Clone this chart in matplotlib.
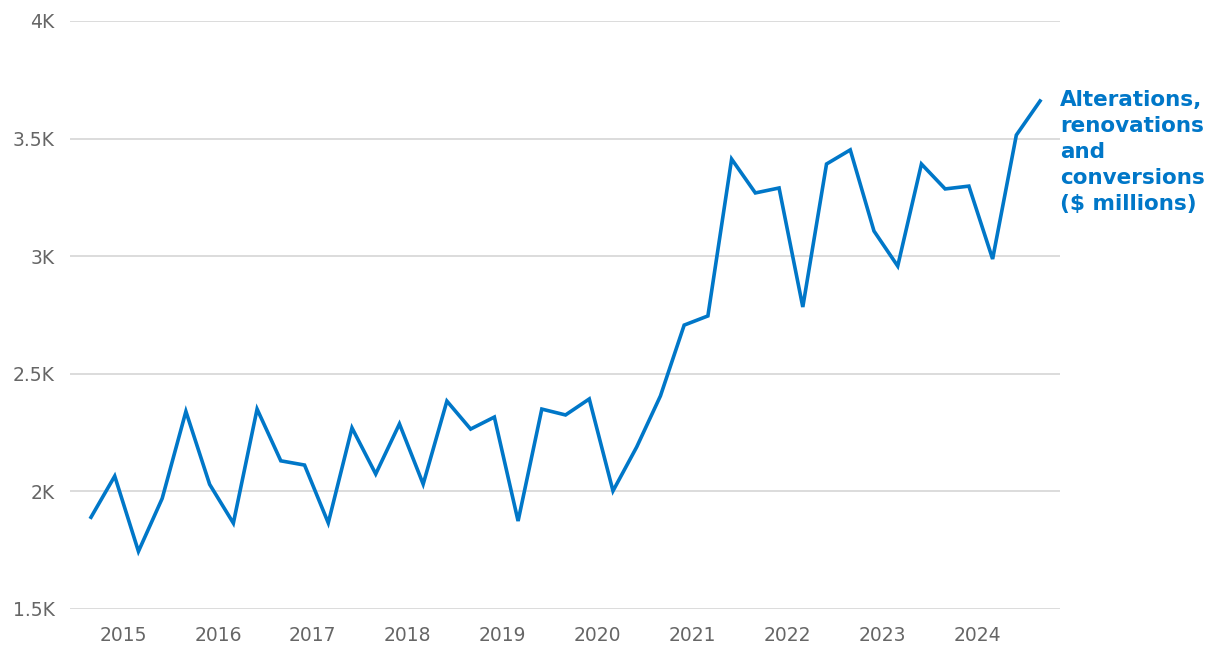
import matplotlib.pyplot as plt

# quarterly values, $ millions
values = [1890, 2065, 1745, 1970, 2340, 2030, 1865, 2350, 2130, 2112,
          1866, 2270, 2074, 2287, 2031, 2384, 2265, 2316, 1874, 2350,
          2325, 2393, 2002, 2189, 2406, 2707, 2746, 3413, 3269, 3290,
          2784, 3392, 3452, 3107, 2958, 3392, 3286, 3298, 2988, 3515,
          3660]
years = ['2015', '2016', '2017', '2018', '2019', '2020', '2021', '2022', '2023', '2024']
y_ticks = [1500, 2000, 2500, 3000, 3500, 4000]
y_labels = ['1.5K', '2K', '2.5K', '3K', '3.5K', '4K']
series_label = 'Alterations,\nrenovations\nand\nconversions\n($ millions)'

blue = '#0077c8'
grey = '#666666'

plt.rcParams['font.family'] = ['DejaVu Sans']

figure = plt.figure(figsize=(12.2, 6.56), dpi=100)
axis = figure.add_axes([70 / 1220, 1 - 609 / 656, 990 / 1220, 588 / 656])

x = list(range(len(values)))
axis.plot(x, values, color=blue, linewidth=2.6, solid_joinstyle='miter', zorder=3)

axis.set_xlim(-0.885, 40.84)
axis.set_ylim(1500, 4000)

# year labels sit about a third of the way into each year's first quarter
axis.set_xticks([1.35 + 4 * i for i in range(len(years))])
axis.set_xticklabels(years)
axis.set_yticks(y_ticks)
axis.set_yticklabels(y_labels)
axis.tick_params(axis='both', length=0, labelsize=13.5, labelcolor=grey)
axis.tick_params(axis='x', pad=12)
axis.tick_params(axis='y', pad=11)

axis.grid(axis='y', color='#d6d6d6', linewidth=1.2)
axis.set_axisbelow(True)
for side in axis.spines.values():
    side.set_visible(False)

figure.text(1060 / 1220, 1 - 90 / 656, series_label, color=blue, fontsize=15.5,
            fontweight='semibold', va='top', ha='left', linespacing=1.38)

figure.savefig('out.png', dpi=100)
